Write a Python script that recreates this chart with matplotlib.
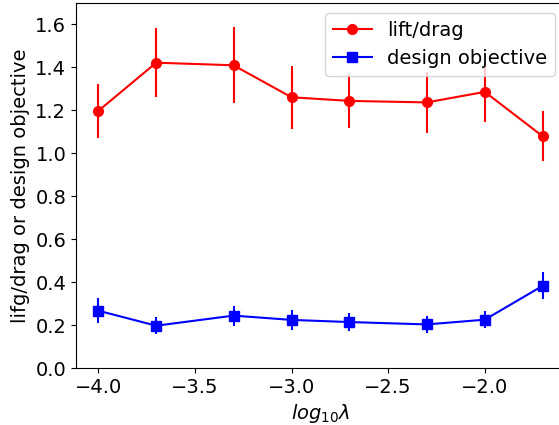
import numpy as np
import matplotlib.pyplot as plt

plt.rcParams['font.size'] = 14

log_lambda = [-4.0, -3.7, -3.3, -3.0, -2.7, -2.3, -2.0, -1.7]

lift_drag = [1.197, 1.422, 1.410, 1.261, 1.244, 1.237, 1.286, 1.079]
lift_drag_err = [0.128, 0.160, 0.177, 0.146, 0.125, 0.141, 0.140, 0.117]

design_obj = [0.267, 0.197, 0.244, 0.224, 0.214, 0.203, 0.225, 0.383]
design_obj_err = [0.057, 0.040, 0.047, 0.047, 0.043, 0.038, 0.041, 0.062]

fig = plt.figure(figsize=(5.59, 4.25), dpi=100)
ax = fig.add_axes([76 / 559, 1 - 368 / 425, (565 - 76) / 559, (368 - 3) / 425])

# means with markers, error bars drawn separately so the legend shows plain lines
ax.plot(log_lambda, lift_drag, color='red', marker='o', markersize=7, lw=1.5,
        label='lift/drag')
ax.errorbar(log_lambda, lift_drag, yerr=lift_drag_err, fmt='none', ecolor='red', lw=1.5)
ax.plot(log_lambda, design_obj, color='blue', marker='s', markersize=7, lw=1.5,
        label='design objective')
ax.errorbar(log_lambda, design_obj, yerr=design_obj_err, fmt='none', ecolor='blue', lw=1.5)

ax.set_ylim(0, 1.7)
ax.set_xlabel(r'$log_{10}\lambda$')
ax.set_ylabel('lifg/drag or design objective')
ax.legend(loc='upper right')

fig.savefig('out.png', dpi=100)
